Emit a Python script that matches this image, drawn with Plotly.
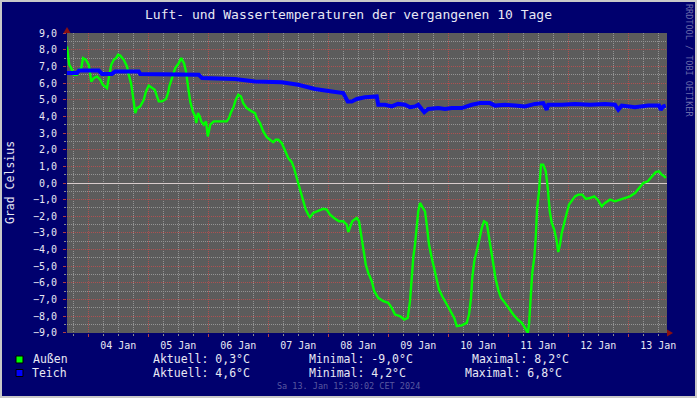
import plotly.graph_objects as go
import pandas as pd

# ---- data (hours after 2024-01-03 15:30, temperature in °C) ----
start = pd.Timestamp("2024-01-03 15:30")

aussen_h = [0.0, 0.9, 1.7, 2.7, 4.0, 4.7, 5.7, 6.4, 7.6, 8.7, 9.7, 10.7, 12.0, 13.3, 14.3, 16.0, 16.7,
            17.7, 18.7, 19.6, 20.4, 21.3, 22.7, 24.0, 24.7, 25.6, 26.3, 26.7, 27.3, 28.0, 29.3, 30.7,
            31.6, 32.7, 33.7, 35.1, 36.0, 36.7, 38.0, 39.6, 40.4, 40.9, 42.0, 43.3, 44.7, 45.7, 46.8,
            47.6, 48.4, 49.3, 50.3, 51.3, 51.7, 52.4, 53.1, 53.7, 54.7, 55.6, 56.3, 57.3, 58.7, 60.7,
            63.9, 64.8, 65.6, 66.5, 67.5, 68.5, 69.6, 70.5, 71.9, 73.9, 75.2, 75.9, 77.2, 78.5, 79.9,
            81.2, 82.5, 83.5, 84.5, 85.9, 87.2, 88.5, 89.9, 90.8, 91.9, 92.5, 93.6, 94.5, 95.5, 96.5,
            97.2, 98.5, 100.5, 102.5, 103.9, 105.2, 107.2, 108.8, 110.5, 111.9, 112.5, 113.2, 114.1,
            114.9, 115.9, 116.8, 117.5, 118.1, 118.9, 119.5, 120.5, 121.9, 122.9, 124.5, 126.5, 128.5,
            129.9, 131.2, 133.2, 134.9, 136.3, 137.2, 137.9, 138.5, 139.2, 139.9, 140.5, 141.2, 142.1,
            143.2, 143.9, 144.8, 145.9, 146.9, 147.9, 148.8, 150.1, 151.9, 153.6, 154.9, 155.9, 157.9,
            159.9, 160.8, 161.6, 162.1, 162.9, 163.9, 164.8, 165.9, 166.8, 167.9, 168.5, 169.6, 170.5,
            171.5, 172.5, 173.6, 175.2, 176.8, 178.5, 180.3, 181.9, 183.2, 184.3, 184.8, 185.6, 186.1,
            186.9, 187.5, 188.0, 188.8, 189.6, 190.5, 191.5, 192.3, 193.1, 193.9, 194.9, 195.9, 196.5,
            197.2, 197.9, 198.9, 199.9, 200.8, 201.9, 203.2, 204.5, 206.1, 207.5, 209.2, 210.9, 212.3,
            213.9, 215.2, 217.2, 219.2, 221.2, 223.2, 225.2, 227.2, 228.8, 230.5, 232.3, 233.9, 235.5,
            236.8, 237.9, 238.9, 239.5]
aussen_v = [8.2, 7.1, 6.9, 6.5, 6.5, 6.8, 6.9, 7.5, 7.4, 7.1, 6.1, 6.3, 6.4, 6.2, 5.9, 5.7, 6.3,
            7.1, 7.4, 7.5, 7.7, 7.65, 7.4, 7.0, 6.5, 6.0, 5.3, 4.7, 4.2, 4.5, 4.6, 5.0,
            5.5, 5.85, 5.75, 5.6, 5.2, 4.9, 4.9, 5.05, 5.4, 5.8, 6.3, 6.9, 7.2, 7.5, 7.2,
            6.7, 5.8, 4.9, 4.3, 4.0, 3.6, 4.2, 4.0, 3.7, 3.5, 3.7, 2.8, 3.5, 3.7, 3.7,
            3.7, 3.9, 4.25, 4.5, 5.0, 5.3, 5.2, 4.8, 4.5, 4.3, 4.2, 3.9, 3.6, 3.1, 2.75,
            2.6, 2.45, 2.6, 2.6, 2.4, 2.0, 1.5, 1.25, 0.9, 0.3, 0.0, -0.5, -1.1, -1.6, -1.9,
            -2.05, -1.8, -1.65, -1.55, -1.6, -1.9, -2.15, -2.3, -2.3, -2.5, -2.95, -2.6, -2.3,
            -2.2, -2.1, -2.3, -2.9, -3.5, -4.3, -4.9, -5.4, -5.9, -6.5, -6.9, -7.1, -7.2,
            -7.5, -7.9, -8.0, -8.2, -8.1, -7.1, -5.5, -4.5, -3.7, -2.4, -1.7, -1.2, -1.4,
            -1.7, -2.5, -3.7, -4.5, -5.2, -5.9, -6.4, -6.8, -7.3, -7.8, -8.1, -8.6, -8.55,
            -8.4, -7.9, -6.9, -5.7, -4.7, -4.1, -3.5, -2.7, -2.3, -2.4, -3.0, -4.1, -5.1,
            -5.8, -6.4, -6.9, -7.2, -7.55, -7.9, -8.2, -8.4, -8.7, -9.0, -8.5, -6.9, -5.4,
            -4.5, -3.3, -1.6, -0.5, 1.1, 1.1, 0.7, -0.3, -1.7, -2.4, -2.8, -3.5, -4.15,
            -3.7, -3.0, -2.3, -1.8, -1.3, -1.1, -0.8, -0.7, -0.7, -0.95, -0.9, -0.8, -1.0,
            -1.4, -1.2, -1.0, -1.1, -1.0, -0.9, -0.8, -0.6, -0.3, 0.0, 0.1, 0.4, 0.65,
            0.7, 0.5, 0.4, 0.3]

teich_h = [0.0, 4.0, 4.8, 12.7, 14.0, 18.0, 19.3, 28.7, 29.3, 42.0, 43.3, 52.7, 54.0, 62.0, 67.2,
           75.2, 85.9, 92.5, 99.2, 105.9, 110.5, 112.3, 113.9, 115.9, 119.2, 123.9, 124.5, 127.2,
           129.9, 132.4, 135.2, 137.2, 139.2, 140.5, 142.9, 144.5, 148.5, 151.2, 153.9, 157.9,
           161.9, 165.2, 169.2, 171.2, 175.2, 179.2, 183.2, 187.2, 190.5, 191.9, 192.5, 197.9,
           203.2, 209.2, 215.2, 219.2, 220.5, 221.9, 227.2, 232.5, 236.8, 237.5, 238.5, 239.5]
teich_v = [6.6, 6.6, 6.75, 6.75, 6.55, 6.55, 6.7, 6.7, 6.55, 6.55, 6.5, 6.5, 6.3, 6.3, 6.25,
           6.1, 6.05, 5.9, 5.65, 5.5, 5.4, 4.9, 4.9, 5.05, 5.15, 5.2, 4.7, 4.7,
           4.6, 4.75, 4.7, 4.55, 4.6, 4.7, 4.25, 4.45, 4.5, 4.45, 4.5, 4.5,
           4.7, 4.8, 4.8, 4.65, 4.7, 4.65, 4.6, 4.75, 4.8, 4.4, 4.7, 4.7,
           4.75, 4.7, 4.75, 4.7, 4.4, 4.65, 4.55, 4.65, 4.65, 4.4, 4.6, 4.65]

y_ticks = [-9, -8, -7, -6, -5, -4, -3, -2, -1, 0, 1, 2, 3, 4, 5, 6, 7, 8, 9]

title_text = "Luft- und Wassertemperaturen der vergangenen 10 Tage"
y_title = "Grad Celsius"
series_names = ["Außen", "Teich"]
stats_aktuell = ["Aktuell: 0,3°C", "Aktuell: 4,6°C"]
stats_min = ["Minimal: -9,0°C", "Minimal: 4,2°C"]
stats_max = ["Maximal: 8,2°C", "Maximal: 6,8°C"]
timestamp_text = "Sa 13. Jan 15:30:02 CET 2024"
credit_text = "RRDTOOL / TOBI OETIKER"

# ---- styling ----
W, H = 697, 398
L, R, T, B = 67, 30, 33, 65
PW, PH = W - L - R, H - T - B
NAVY = "#00006e"
TXT = "#e8e8f4"
MONO = "DejaVu Sans Mono"
GREEN = "#00ff00"
BLUE = "#0000ff"


def px(x):
    return (x - L) / PW


def py(y):
    return (H - B - y) / PH


x_a = start + pd.to_timedelta(aussen_h, unit="h")
x_t = start + pd.to_timedelta(teich_h, unit="h")

fig = go.Figure()
fig.add_trace(go.Scatter(x=x_a, y=aussen_v, mode="lines", line=dict(color=GREEN, width=2.4),
                         name=series_names[0], hoverinfo="skip"))
fig.add_trace(go.Scatter(x=x_t, y=teich_v, mode="lines", line=dict(color=BLUE, width=4),
                         name=series_names[1], hoverinfo="skip"))

end = start + pd.Timedelta(hours=240)

fig.update_layout(
    width=W, height=H,
    margin=dict(l=L, r=R, t=T, b=B, pad=0, autoexpand=False),
    paper_bgcolor=NAVY,
    plot_bgcolor="#5c5c5c",
    separators=",.",
    showlegend=False,
    font=dict(family=MONO, color=TXT, size=10),
)

fig.update_xaxes(
    type="date", range=[start, end],
    tick0="2024-01-04", dtick=86400000, ticklabelmode="period", tickformat="%d %b",
    showgrid=True, gridcolor="#b05050", griddash="1px,1px", gridwidth=1,
    ticks="outside", ticklen=3, tickcolor="#b04040",
    tickfont=dict(family=MONO, size=10, color=TXT),
    minor=dict(tick0="2024-01-04", dtick=6 * 3600000, showgrid=True, gridcolor="#949494",
               griddash="1px,1px", ticks="outside", ticklen=2, tickcolor="#8a8a8a"),
    zeroline=False, showline=False,
)
fig.update_yaxes(
    range=[-9.01, 9.01], tickmode="array", tickvals=y_ticks, tickformat=".1f",
    showgrid=True, gridcolor="#b05050", griddash="1px,1px", gridwidth=1,
    ticks="outside", ticklen=3, tickcolor="#b04040", ticklabelstandoff=4,
    ticklabeloverflow="allow",
    tickfont=dict(family=MONO, size=10, color=TXT),
    minor=dict(dtick=0.5, tick0=0, showgrid=True, gridcolor="#949494", griddash="1px,1px",
               ticks="outside", ticklen=2, tickcolor="#8a8a8a"),
    zeroline=True, zerolinecolor="#d8cccc", zerolinewidth=1, showline=False,
)

shapes = []
# outer frame
shapes.append(dict(type="rect", xref="paper", yref="paper",
                   x0=px(1), x1=px(W - 1), y0=py(1), y1=py(H - 1),
                   line=dict(color="#c8c8c8", width=2), layer="above"))
# axis arrows
shapes.append(dict(type="path", xref="paper", yref="paper",
                   path=f"M {px(63.5)} {py(33)} L {px(70.5)} {py(33)} L {px(67)} {py(27)} Z",
                   fillcolor="#8a1010", line=dict(width=0)))
shapes.append(dict(type="path", xref="paper", yref="paper",
                   path=f"M {px(667)} {py(329.5)} L {px(667)} {py(336.5)} L {px(673)} {py(333)} Z",
                   fillcolor="#8a1010", line=dict(width=0)))
# legend swatches
for i, c in enumerate([GREEN, BLUE]):
    y0 = 356 + i * 13.5
    shapes.append(dict(type="rect", xref="paper", yref="paper",
                       x0=px(16), x1=px(23), y0=py(y0), y1=py(y0 + 7),
                       fillcolor=c, line=dict(color="#000000", width=1)))

ann = []
ann.append(dict(text=title_text, x=px(348), y=py(14), xref="paper", yref="paper",
                showarrow=False, xanchor="center", yanchor="middle",
                font=dict(family=MONO, size=13, color=TXT)))
ann.append(dict(text=y_title, x=px(10), y=py(183), xref="paper", yref="paper",
                showarrow=False, xanchor="center", yanchor="middle", textangle=-90,
                font=dict(family=MONO, size=11.5, color=TXT)))
ann.append(dict(text=credit_text, x=px(689), y=py(60), xref="paper", yref="paper",
                showarrow=False, xanchor="center", yanchor="middle", textangle=90,
                font=dict(family=MONO, size=8.5, color="#6a6aaa")))
ann.append(dict(text=timestamp_text, x=px(348), y=py(386), xref="paper", yref="paper",
                showarrow=False, xanchor="center", yanchor="middle",
                font=dict(family=MONO, size=8.5, color="#5858a0")))

rows_y = [359, 373]
name_x = [31, 30]
max_x = [470, 463]
for i in range(2):
    for txt, xx in [(series_names[i], name_x[i]), (stats_aktuell[i], 151),
                    (stats_min[i], 307), (stats_max[i], max_x[i])]:
        ann.append(dict(text=txt, x=px(xx), y=py(rows_y[i]), xref="paper", yref="paper",
                        showarrow=False, xanchor="left", yanchor="middle",
                        font=dict(family=MONO, size=11.5, color=TXT)))

fig.update_layout(shapes=shapes, annotations=ann)

fig.write_html("out.html", config={"displayModeBar": False},
               post_script="document.body.style.margin='0';document.body.style.padding='0';")
